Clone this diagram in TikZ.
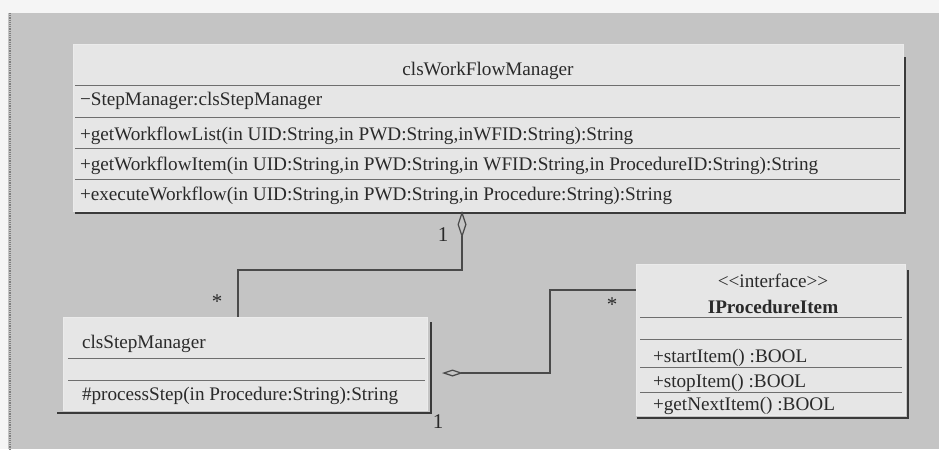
\documentclass[tikz,border=0pt]{standalone}
\usepackage{fontspec}
\setmainfont{Liberation Serif}
\usetikzlibrary{arrows.meta}
\definecolor{bggray}{HTML}{C4C4C4}
\definecolor{boxfill}{HTML}{E6E6E6}
\definecolor{ink}{HTML}{2A2A2A}
\definecolor{sepcol}{HTML}{6E6E6E}
\definecolor{shadowcol}{HTML}{3A3A3A}
\tikzset{
  classbox/.style={draw=white!92!black, line width=0.8pt, fill=boxfill, inner sep=0pt, outer sep=0pt, anchor=north west},
  sepline/.style={draw=sepcol, line width=1pt},
  shadowline/.style={draw=shadowcol, line width=2pt},
  txt/.style={inner sep=0pt, outer sep=0pt, text=ink, font=\fontsize{19.2}{22}\selectfont},
  mult/.style={inner sep=0pt, outer sep=0pt, text=ink, font=\fontsize{21}{22}\selectfont},
  conn/.style={draw=ink!85!white, line width=1.4pt},
}
\begin{document}
\begin{tikzpicture}[x=1pt, y=-1pt]
% background
\fill[bggray] (0,0) rectangle (939,449);
\fill[white!96!black] (0,0) rectangle (939,13);
\fill[white!96!black] (0,0) rectangle (8,449);
\draw[gray, line width=1.2pt, densely dotted] (10,13) -- (10,449);
\useasboundingbox (0,0) rectangle (939,449);

% ---------- clsWorkFlowManager ----------
\node[classbox, minimum width=830pt, minimum height=167pt] (wf) at (73,44) {};
\draw[shadowline] (75,213) -- (905,213) -- (905,57);
\foreach \yy in {85,117,148,179} \draw[sepline] (75,\yy) -- (900,\yy);
\node[txt, anchor=base] (wft) at (488,75) {clsWorkFlowManager};
\node[txt, anchor=base west] (wfa) at (80,105) {−StepManager:clsStepManager};
\node[txt, anchor=base west] (wfm1) at (80,140) {+getWorkflowList(in UID:String,in PWD:String,inWFID:String):String};
\node[txt, anchor=base west] (wfm2) at (80,170) {+getWorkflowItem(in UID:String,in PWD:String,in WFID:String,in ProcedureID:String):String};
\node[txt, anchor=base west] (wfm3) at (80,200) {+executeWorkflow(in UID:String,in PWD:String,in Procedure:String):String};

% ---------- clsStepManager ----------
\node[classbox, minimum width=364pt, minimum height=93pt] (sm) at (63,317) {};
\draw[shadowline] (57,413) -- (431,413) -- (431,322);
\foreach \yy in {358,380} \draw[sepline] (68,\yy) -- (425,\yy);
\node[txt, anchor=base west] (smt) at (82,348) {clsStepManager};
\node[txt, anchor=base west] (smm) at (82,400) {\#processStep(in Procedure:String):String};

% ---------- IProcedureItem ----------
\node[classbox, minimum width=269pt, minimum height=151pt] (ip) at (636,264) {};
\draw[shadowline] (637,418) -- (908,418) -- (908,270);
\foreach \yy in {317,339,367,392} \draw[sepline] (640,\yy) -- (902,\yy);
\node[txt, anchor=base] (ips) at (773,287) {{<}{<}interface{>}{>}};
\node[txt, anchor=base, font=\fontsize{19.2}{22}\selectfont\bfseries] (ipt) at (773,313) {IProcedureItem};
\node[txt, anchor=base west] (ipm1) at (653,362) {+startItem() :BOOL};
\node[txt, anchor=base west] (ipm2) at (653,387) {+stopItem() :BOOL};
\node[txt, anchor=base west] (ipm3) at (653,410) {+getNextItem() :BOOL};

% ---------- connectors ----------
\draw[conn, {Diamond[open, length=27pt, width=9pt, line width=1.2pt]}-]
  ([xshift=-26pt]wf.south) -- ++(0,59) -| ([xshift=-7pt]sm.north);
\draw[conn, {Diamond[open, length=21pt, width=7pt, line width=1.2pt]}-]
  ([xshift=15pt, yshift=-9.5pt]sm.east) -- ++(108,0) |- ([yshift=49.5pt]ip.west);

% multiplicities
\node[mult, anchor=base] (m1) at (443,241) {1};
\node[mult] (m2) at (217,302) {*};
\node[mult, anchor=base] (m3) at (438,428) {1};
\node[mult] (m4) at (612,305) {*};
\end{tikzpicture}
\end{document}
